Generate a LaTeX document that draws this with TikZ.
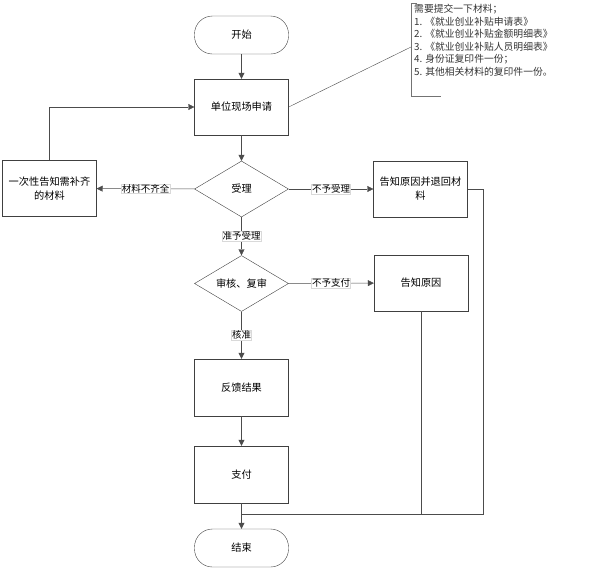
\documentclass[tikz,border=0pt]{standalone}
\usepackage{fontspec}
\newfontfamily\cjk{Noto Sans CJK SC}
\usetikzlibrary{arrows.meta,shapes.geometric}

\begin{document}
\begin{tikzpicture}[
  x=1pt, y=-1pt,
  box/.style={draw=black!75, align=center, minimum width=94pt, minimum height=56pt, inner sep=1pt, font=\cjk\fontsize{10.2}{14}\selectfont},
  term/.style={box, rounded corners=18pt, minimum height=38pt},
  choice/.style={draw=black!75, diamond, aspect=1.68, minimum width=94pt, minimum height=56pt, inner sep=0pt, font=\cjk\fontsize{10.2}{14}\selectfont},
  tag/.style={fill=white, draw=black!15, inner sep=0.5pt, font=\cjk\fontsize{9.5}{11}\selectfont},
  arr/.style={-{Triangle[length=6pt,width=6pt]}, draw=black!70, thin},
  ln/.style={draw=black!70, thin}
]
\useasboundingbox (0,0) rectangle (597,571);

\node[term] (start) at (241.5,35) {开始};
\node[box] (apply) at (241.5,107) {单位现场申请};
\node[choice] (accept) at (241.5,189) {受理};
\node[box] (notify) at (49.5,188.5) {一次性告知需补齐\\的材料};
\node[box] (reject) at (420.5,189) {告知原因并退回材\\料};
\node[choice] (review) at (241.5,283.5) {审核、复审};
\node[box] (reason) at (421,283) {告知原因};
\node[box, minimum height=57pt] (feedback) at (241.5,387.5) {反馈结果};
\node[box, minimum height=57pt] (pay) at (241.5,474.5) {支付};
\node[term] (end) at (241.5,548) {结束};

% note on the materials
\coordinate (notetip) at (411,47);
\coordinate (join) at (241.5,514);
\coordinate (rjoin) at (483,514);
\draw[draw=black!55] (417,3) -- (411,3) -- (411,96) -- (441,96);
\node[anchor=north west, align=left, inner sep=0pt, font=\cjk\fontsize{9.8}{12.6}\selectfont, text=black!80] (note) at (414,4)
  {需要提交一下材料；\\1. 《就业创业补贴申请表》\\2. 《就业创业补贴金额明细表》\\3. 《就业创业补贴人员明细表》\\4. 身份证复印件一份；\\5. 其他相关材料的复印件一份。};
\draw[ln] (apply.east) -- (notetip);

\draw[arr] (start) -- (apply);
\draw[arr] (apply) -- (accept);
\draw[arr] (accept) -- node[tag] {材料不齐全} (notify);
\draw[arr] (accept) -- node[tag] {不予受理} (reject);
\draw[arr] (accept) -- node[tag] {准予受理} (review);
\draw[arr] (notify.north) |- (apply.west);
\draw[arr] (review) -- node[tag] {不予支付} (reason);
\draw[arr] (review) -- node[tag] {核准} (feedback);
\draw[arr] (feedback) -- (pay);
\draw[arr] (pay) -- (end);
\draw[ln] (reject.east) -| (rjoin) -- (join);
\draw[ln] (reason.south) -- (reason.south |- join);

\end{tikzpicture}
\end{document}
